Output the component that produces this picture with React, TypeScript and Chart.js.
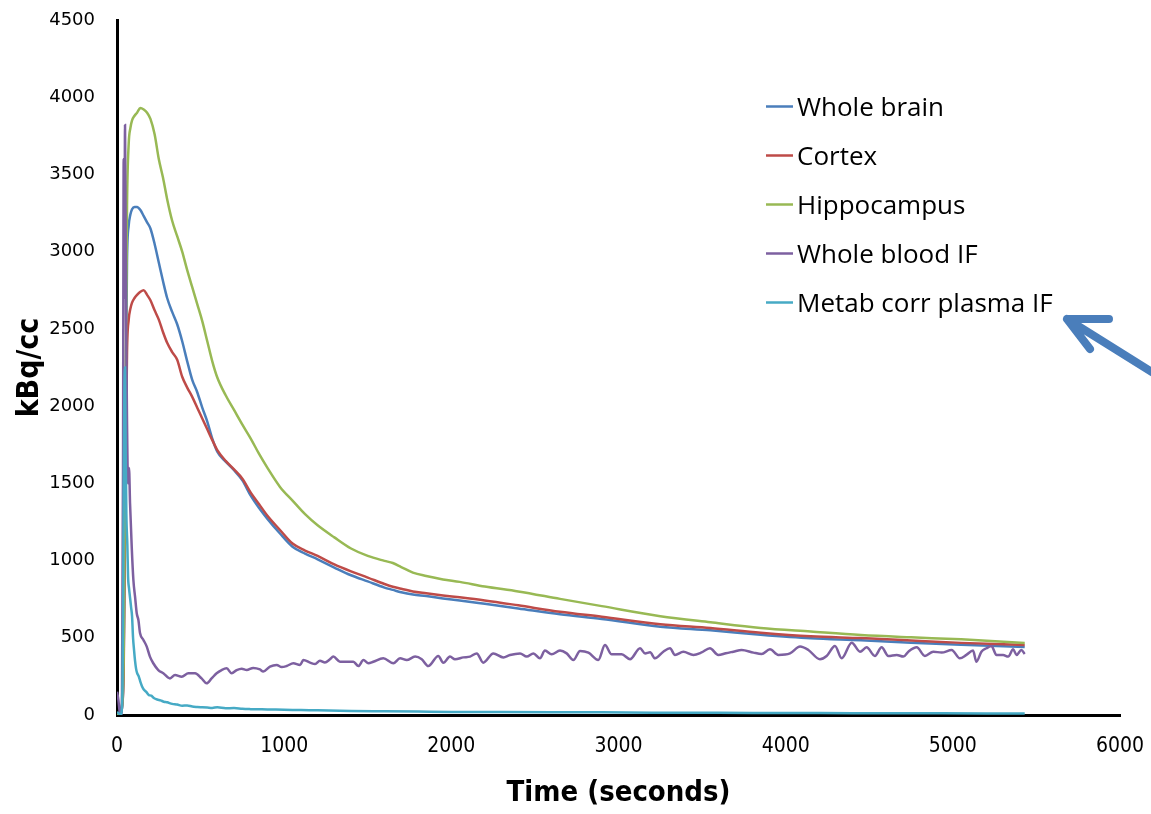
import { useEffect, useRef } from "react";
import { Chart, registerables } from "chart.js";

Chart.register(...registerables);

// ---- Series meta ----
const SERIES_NAMES = ["Whole brain", "Cortex", "Hippocampus", "Whole blood IF", "Metab corr plasma IF"];
const SERIES_COLORS = ["#4a7ebb", "#be4b48", "#98b954", "#7d60a0", "#46aac5"];

// ---- Axis ranges ----
const X_MAX = 6000;
const X_STEP = 1000;
const Y_MAX = 4500;
const Y_STEP = 500;

// ---- Tissue time-activity curves (frame times in s, kBq/cc) ----
const TISSUE_TIME = [
  0, 10, 20, 30, 40, 50, 60, 70, 80, 90,
  105, 120, 140, 160, 180, 200,
  225, 250, 275, 300,
  330, 360, 390, 420, 450, 480, 510, 540, 570, 600,
  650, 700, 750, 800, 850, 900,
  975, 1050, 1125, 1200,
  1300, 1400, 1500, 1600,
  1650, 1700, 1770, 1850, 1950, 2050,
  2200, 2400, 2650, 2900,
  3250, 3550, 3850, 4150, 4450, 4750, 5050, 5430,
];

const WHOLE_BRAIN = [
  0, 0, 10, 50, 350, 1700, 2950, 3170, 3240, 3275,
  3290, 3290, 3270, 3230, 3190, 3150,
  3050, 2930, 2810, 2700,
  2610, 2530, 2420, 2290, 2170, 2090, 1990, 1900, 1790, 1705,
  1640, 1585, 1520, 1420, 1340, 1270,
  1175, 1090, 1045, 1008,
  955, 905, 865, 825,
  810, 795, 780, 770, 755, 742,
  720, 690, 652, 622,
  572, 548, 520, 497, 484, 468, 455, 440,
];

const CORTEX = [
  0, 0, 10, 50, 300, 1400, 2350, 2560, 2630, 2670,
  2700, 2720, 2740, 2750, 2720, 2685,
  2620, 2560, 2480, 2410,
  2350, 2300, 2190, 2120, 2060, 1990, 1920, 1850, 1780, 1715,
  1645, 1590, 1530, 1440, 1365, 1290,
  1198, 1110, 1065, 1030,
  975, 930, 890, 848,
  830, 818, 800, 788, 774, 762,
  742, 710, 668, 636,
  588, 563, 533, 510, 498, 483, 467, 453,
];

const HIPPOCAMPUS = [
  0, 0, 10, 60, 400, 1900, 3300, 3700, 3800, 3850,
  3880, 3900, 3930, 3920, 3900, 3860,
  3760, 3600, 3480, 3340,
  3200, 3100, 3000, 2880, 2770, 2660, 2550, 2420, 2290, 2185,
  2070, 1975, 1880, 1790, 1690, 1600,
  1477, 1388, 1300, 1228,
  1150, 1078, 1030, 998,
  984, 958, 922, 900, 878, 862,
  832, 800, 752, 705,
  640, 600, 563, 540, 518, 503, 490, 466,
];

// ---- Whole blood input function ----
const BLOOD_TIME = [
  0, 8, 16, 24, 30, 36, 40, 44, 48, 54,
  60, 66, 72, 78, 88, 98, 108, 118, 128, 138,
  158, 178, 197, 217, 247, 277, 317, 347, 387, 427,
  467, 506, 536, 566, 596, 626, 656, 686, 716, 746,
  776, 815, 855, 875, 915, 955, 985, 1015, 1055, 1095,
  1115, 1155, 1185, 1214, 1244, 1274, 1294, 1334,
  1414, 1444, 1474, 1504, 1533, 1593, 1653, 1693, 1733, 1783,
  1823, 1862, 1922, 1952, 1992, 2022, 2072, 2112, 2152, 2191,
  2251, 2311, 2351, 2411, 2451, 2491, 2530, 2560, 2600, 2650,
  2690, 2730, 2770, 2820, 2879, 2919, 2959, 3019, 3069, 3129,
  3159, 3189, 3218, 3268, 3308, 3338, 3388,
  3448, 3497, 3547, 3597, 3642, 3687, 3737, 3807, 3856, 3906,
  3956, 4026, 4086, 4136, 4205, 4245, 4295, 4335, 4395, 4445,
  4484, 4534, 4574, 4614, 4664, 4704, 4734, 4784, 4833, 4883,
  4933, 4993, 5042, 5081, 5121, 5141, 5171, 5201, 5231, 5261,
  5301, 5331, 5361, 5381, 5410, 5430,
];

const WHOLE_BLOOD = [
  150, 100, 20, 0, 150, 1600, 3600, 2700, 3820, 2600,
  1900, 1500, 1600, 1371, 1090, 874, 766, 659, 615, 529,
  486, 443, 378, 335, 291, 270, 237, 259, 248, 270,
  270, 237, 205, 237, 270, 291, 302, 270, 291, 300,
  291, 305, 295, 281, 313, 324, 310, 317, 335, 324,
  356, 339, 330, 352, 340, 361, 378, 345,
  345, 317, 356, 335, 345, 367, 335, 367, 356, 378,
  361, 317, 382, 339, 378, 361, 373, 378, 399, 339,
  399, 373, 389, 399, 378, 399, 367, 417, 393, 417,
  399, 356, 415, 404, 356, 453, 393, 393, 361, 432,
  399, 406, 367, 410, 432, 389, 410,
  389, 405, 432, 389, 400, 410, 421, 404, 395, 425,
  389, 399, 443, 421, 361, 382, 447, 367, 468, 410,
  438, 382, 438, 382, 389, 378, 410, 438, 382, 410,
  404, 421, 367, 389, 417, 345, 410, 432, 447, 389,
  389, 378, 425, 389, 421, 395,
];

// ---- Metabolite-corrected plasma input function ----
const PLASMA_TIME = [
  0, 10, 20, 30, 36, 40, 44, 48, 52, 56,
  62, 66, 72, 78, 84, 90, 96, 102, 108, 114,
  120, 130, 140, 150, 160, 175, 190, 205, 220, 240,
  260, 280, 300, 330, 360, 390, 420, 450, 480, 510,
  540, 570, 600, 650, 700, 750, 800, 900, 1000, 1100,
  1200, 1400, 1600, 1800, 2000, 2300, 2600, 2900, 3200, 3600,
  4000, 4400, 4800, 5200, 5430,
];

const METAB_PLASMA = [
  20, 10, 0, 50, 600, 1500, 2100, 2250, 1700, 1300,
  1100, 900, 820, 760, 700, 640, 500, 420, 350, 300,
  272, 250, 215, 185, 165, 150, 130, 125, 110, 100,
  95, 86, 82, 72, 68, 60, 62, 55, 52, 50,
  48, 46, 50, 44, 45, 40, 38, 36, 34, 32,
  30, 26, 24, 22, 20, 19, 18, 17, 15, 14,
  13, 12, 11, 10, 10,
];

const SERIES_TIMES = [TISSUE_TIME, TISSUE_TIME, TISSUE_TIME, BLOOD_TIME, PLASMA_TIME];
const SERIES_VALUES = [WHOLE_BRAIN, CORTEX, HIPPOCAMPUS, WHOLE_BLOOD, METAB_PLASMA];

const CONDENSED = '"DejaVu Sans Condensed", "Liberation Sans", sans-serif';

// Legend drawn inside the plot area, upper right
const insideLegend = {
  id: "insideLegend",
  afterDraw(chart: any) {
    const { ctx, chartArea } = chart;
    const lineX0 = chartArea.right - 354;
    const lineX1 = chartArea.right - 327;
    const textX = chartArea.right - 323;
    const firstBaseline = chartArea.top + 96;
    const rowGap = 49;
    ctx.save();
    ctx.font = '26px "Open Sans", sans-serif';
    ctx.textBaseline = "alphabetic";
    ctx.textAlign = "left";
    SERIES_NAMES.forEach((name, i) => {
      const base = firstBaseline + i * rowGap;
      ctx.strokeStyle = SERIES_COLORS[i];
      ctx.lineWidth = 2.5;
      ctx.beginPath();
      ctx.moveTo(lineX0, base - 9.5);
      ctx.lineTo(lineX1, base - 9.5);
      ctx.stroke();
      ctx.fillStyle = "#000";
      ctx.fillText(name, textX, base);
    });
    ctx.restore();
  },
};

// Callout arrow pointing at the plasma input function entry
const calloutArrow = {
  id: "calloutArrow",
  afterDraw(chart: any) {
    const { ctx, width } = chart;
    const tipX = 1067;
    const tipY = 319;
    ctx.save();
    ctx.strokeStyle = "#4a7ebb";
    ctx.lineWidth = 8;
    ctx.lineCap = "round";
    ctx.lineJoin = "round";
    ctx.beginPath();
    ctx.moveTo(width + 20, 384);
    ctx.lineTo(tipX, tipY);
    ctx.moveTo(1109, 319);
    ctx.lineTo(tipX, tipY);
    ctx.lineTo(1090, 349);
    ctx.stroke();
    ctx.restore();
  },
};

const plainNumber = (v: number | string) => String(v);

export default function App() {
  const canvasRef = useRef<HTMLCanvasElement>(null);

  useEffect(() => {
    const canvas = canvasRef.current;
    if (!canvas) return;

    const datasets = SERIES_NAMES.map((label, i) => ({
      label,
      data: SERIES_TIMES[i].map((t, k) => ({ x: t, y: SERIES_VALUES[i][k] })),
      borderColor: SERIES_COLORS[i],
      backgroundColor: SERIES_COLORS[i],
      borderWidth: 2.5,
      pointRadius: 0,
      fill: false,
      cubicInterpolationMode: "monotone" as const,
      order: SERIES_NAMES.length - i,
    }));

    const chart = new Chart(canvas, {
      type: "line",
      data: { datasets },
      options: {
        responsive: false,
        animation: false,
        events: [],
        layout: { padding: { top: 20, right: 31, left: 8, bottom: 0 } },
        plugins: {
          legend: { display: false },
          tooltip: { enabled: false },
        },
        scales: {
          x: {
            type: "linear",
            min: 0,
            max: X_MAX,
            // tick marks are hidden; their length only spaces the labels
            grid: { display: false, drawTicks: true, tickLength: 16 },
            border: { display: true, color: "#000", width: 3 },
            ticks: {
              stepSize: X_STEP,
              autoSkip: false,
              maxRotation: 0,
              padding: 3,
              color: "#000",
              font: { family: CONDENSED, size: 21 },
              callback: plainNumber,
            },
            title: {
              display: true,
              text: "Time (seconds)",
              color: "#000",
              font: { family: CONDENSED, size: 29, weight: "bold" },
              padding: { top: 0, bottom: 3 },
            },
            afterFit: (scale: any) => {
              scale.height = 99;
            },
          },
          y: {
            type: "linear",
            min: 0,
            max: Y_MAX,
            grid: { display: false, drawTicks: true, tickLength: 19 },
            border: { display: true, color: "#000", width: 3 },
            ticks: {
              stepSize: Y_STEP,
              autoSkip: false,
              padding: 3,
              color: "#000",
              font: { family: '"DejaVu Sans", sans-serif', size: 18 },
              callback: plainNumber,
            },
            title: {
              display: true,
              text: "kBq/cc",
              color: "#000",
              font: { family: CONDENSED, size: 30, weight: "bold" },
              padding: { top: 4, bottom: 0 },
            },
            afterFit: (scale: any) => {
              scale.width = 109;
            },
          },
        },
      },
      plugins: [insideLegend, calloutArrow],
    });

    return () => chart.destroy();
  }, []);

  return (
    <div style={{ position: "fixed", left: 0, top: 0, width: 1151, height: 814, background: "#fff" }}>
      <canvas ref={canvasRef} width={1151} height={814} style={{ display: "block" }} />
    </div>
  );
}
